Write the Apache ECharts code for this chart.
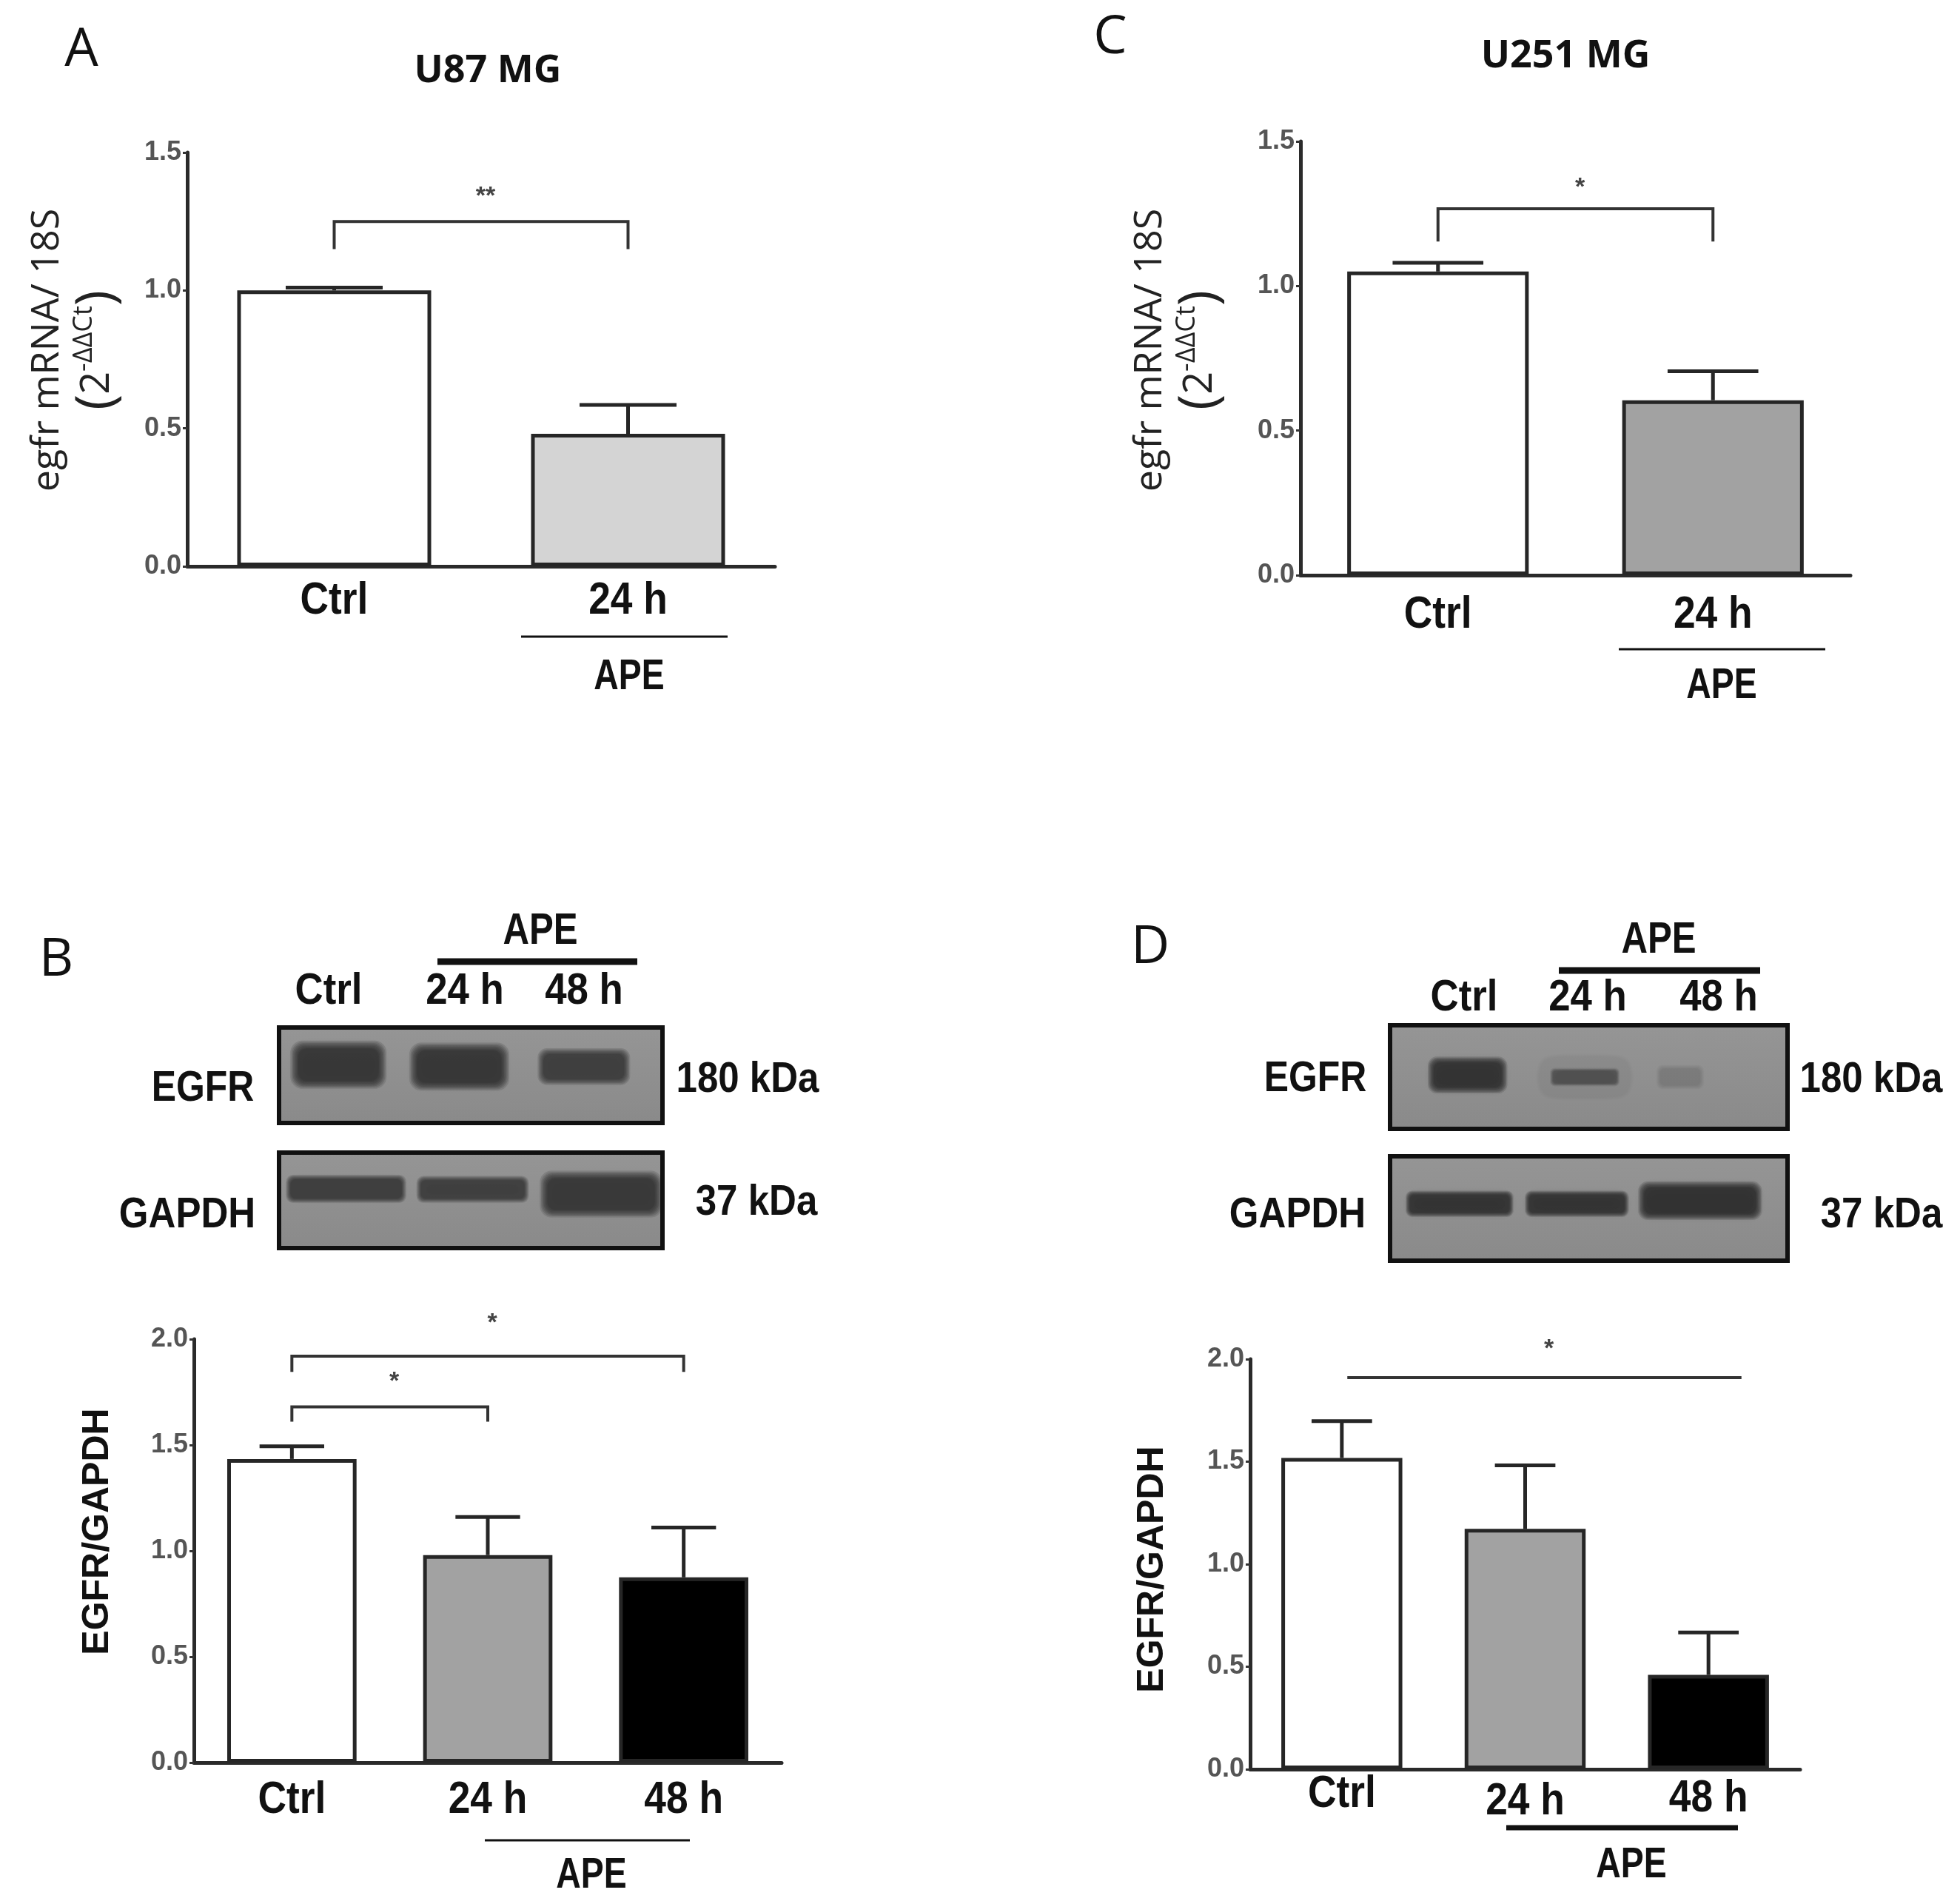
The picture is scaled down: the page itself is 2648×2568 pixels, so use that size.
<!DOCTYPE html>
<html><head><meta charset="utf-8">
<script src="https://cdn.jsdelivr.net/npm/echarts@6/dist/echarts.min.js"></script>
<style>html,body{margin:0;padding:0;background:#fff}#c{width:2648px;height:2568px}</style>
</head><body><div id="c"></div>
<script>
// ---------- data ----------
const catsA = ['Ctrl', '24 h'];
const meanA = [1.00, 0.48];
const semA = [0.01, 0.105];
const catsC = ['Ctrl', '24 h'];
const meanC = [1.05, 0.605];
const semC = [0.03, 0.10];
const catsB = ['Ctrl', '24 h', '48 h'];
const meanB = [1.434, 0.98, 0.875];
const semB = [0.06, 0.18, 0.235];
const catsD = ['Ctrl', '24 h', '48 h'];
const meanD = [1.518, 1.172, 0.46];
const semD = [0.18, 0.31, 0.207];
const ticksAC = ['0.0', '0.5', '1.0', '1.5'];
const ticksBD = ['0.0', '0.5', '1.0', '1.5', '2.0'];
// significance: [fromIdx, toIdx, barY, legBottomY, startExtra, endExtra, starY]
const sigA = [[0, 1, 1.25, 1.15, 0, 0, 1.34]];
const starsA = ['**'];
const sigC = [[0, 1, 1.267, 1.154, 0, 0, 1.34]];
const starsC = ['*'];
const sigB = [[0, 1, 1.68, 1.61, 0, 0, 1.80], [0, 2, 1.92, 1.845, 0, 0, 2.075]];
const starsB = ['*', '*'];
const sigD = [[0, 2, 1.91, 1.91, 0.03, 0.18, 2.05]];
const starsD = ['*'];
// western blot band intensities (per lane)
const blotB_EGFR = [0.9, 0.9, 0.82];
const blotB_GAPDH = [0.78, 0.76, 0.88];
const blotD_EGFR = [0.95, 0.5, 0.14];
const blotD_GAPDH = [0.95, 0.95, 0.97];

const fillAC = [['#ffffff', '#d4d4d4'], ['#ffffff', '#a2a2a2']];
const fillBD = ['#ffffff', '#a2a2a2', '#000000'];

const BOLD = '"Liberation Sans", Arial, sans-serif';
const SANS = '"Open Sans", "Liberation Sans", sans-serif';
const INK = '#262626';

// ---------- helpers ----------
function errItem(params, api) {
  const i = api.value(0);
  const b = api.coord([i, api.value(1)]);
  const t = api.coord([i, api.value(2)]);
  const bw = api.size([1, 0])[0];
  const cap = bw * 0.66 * 0.25;
  return { type: 'group', children: [
    { type: 'line', shape: { x1: b[0], y1: b[1], x2: t[0], y2: t[1] }, style: { stroke: INK, lineWidth: 5 } },
    { type: 'line', shape: { x1: t[0] - cap, y1: t[1], x2: t[0] + cap, y2: t[1] }, style: { stroke: INK, lineWidth: 5 } }
  ]};
}
function sigItem(stars) {
  return function (params, api) {
    const x0 = api.value(0), x1 = api.value(1), y = api.value(2), yl = api.value(3);
    const e0 = api.value(4), e1 = api.value(5), ys = api.value(6);
    const bw = api.size([1, 0])[0];
    const p0 = api.coord([x0, y]), p1 = api.coord([x1, y]), pl = api.coord([x0, yl]), ps = api.coord([x0, ys]);
    const xa = p0[0] + e0 * bw, xb = p1[0] + e1 * bw;
    const pts = yl < y ? [[xa, pl[1]], [xa, p0[1]], [xb, p0[1]], [xb, pl[1]]] : [[xa, p0[1]], [xb, p0[1]]];
    return { type: 'group', children: [
      { type: 'polyline', shape: { points: pts }, style: { stroke: '#333', lineWidth: 4, fill: null } },
      { type: 'text', style: { text: stars[params.dataIndex], x: (xa + xb) / 2 + 6, y: ps[1], align: 'center', verticalAlign: 'middle', fontSize: 34, fontWeight: 'bold', fontFamily: BOLD, fill: '#444' } }
    ]};
  };
}

const grids = [
  { left: 253, top: 206, width: 794, height: 559 },
  { left: 1757, top: 191, width: 743, height: 586 },
  { left: 262, top: 1809, width: 794, height: 572 },
  { left: 1689, top: 1836, width: 743, height: 554 }
];
const panels = [
  { cats: catsA, mean: meanA, sem: semA, ticks: ticksAC, max: 1.5, fills: fillAC[0], sig: sigA, stars: starsA },
  { cats: catsC, mean: meanC, sem: semC, ticks: ticksAC, max: 1.5, fills: fillAC[1], sig: sigC, stars: starsC },
  { cats: catsB, mean: meanB, sem: semB, ticks: ticksBD, max: 2.0, fills: fillBD, sig: sigB, stars: starsB },
  { cats: catsD, mean: meanD, sem: semD, ticks: ticksBD, max: 2.0, fills: fillBD, sig: sigD, stars: starsD }
];
const labelOffsets = [[47, 47], [54, 54], [51, 51, 51], [34, 44, 40]];

const xAxis = [], yAxis = [], series = [];
panels.forEach((p, k) => {
  xAxis.push({ gridIndex: k, type: 'category', data: p.cats,
    axisLine: { lineStyle: { color: '#2a2a2a', width: 5 } }, axisTick: { show: false },
    axisLabel: { show: false } });
  yAxis.push({ gridIndex: k, type: 'value', min: 0, max: p.max, interval: 0.5,
    splitLine: { show: false },
    axisLine: { show: true, lineStyle: { color: '#2a2a2a', width: 5 } },
    axisTick: { show: true, length: 6, lineStyle: { color: '#333', width: 3 } },
    axisLabel: { formatter: (v) => p.ticks[Math.round(v / 0.5)], fontFamily: BOLD, fontSize: 36, fontWeight: 'bold', color: '#555', margin: 8 } });
  series.push({ type: 'bar', xAxisIndex: k, yAxisIndex: k, barWidth: '66%', z: 2,
    data: p.mean.map((v, i) => ({ value: v, itemStyle: { color: p.fills[i] } })),
    itemStyle: { borderColor: INK, borderWidth: 5 } });
  series.push({ type: 'custom', xAxisIndex: k, yAxisIndex: k, z: 3, clip: false,
    encode: { x: 0, y: [1, 2] },
    data: p.mean.map((m, i) => [i, m, m + p.sem[i]]), renderItem: errItem });
  series.push({ type: 'custom', xAxisIndex: k, yAxisIndex: k, z: 4, clip: false,
    encode: { x: 0, y: 2 },
    data: p.sig, renderItem: sigItem(p.stars) });
});

const chart = echarts.init(document.getElementById('c'), null, { renderer: 'canvas' });
chart.setOption({
  backgroundColor: '#ffffff',
  animation: false,
  grid: grids,
  xAxis: xAxis,
  yAxis: yAxis,
  series: series
});

// ---------- decorative texts & blots ----------
const g = [];
function txt(x, y, text, size, opts) {
  g.push(Object.assign({ type: 'text', x: x, y: y, z: 10, style: Object.assign({ text: text, fontSize: size, fontFamily: BOLD,
    fontWeight: 'bold', fill: '#111', align: 'center', verticalAlign: 'middle' }, opts && opts.style || {}) },
    opts && opts.el || {}));
}
function ntxt(x, y, text, size, sx) { txt(x, y, text, size, { el: { scaleX: sx } }); }
function hline(x1, x2, y, w) {
  g.push({ type: 'line', z: 10, shape: { x1: x1, y1: y, x2: x2, y2: y }, style: { stroke: '#111', lineWidth: w } });
}
function softBand(x, y, w, h, a) {
  const n = 7;
  const s = Math.min(w, h) * 0.08;
  for (let j = 0; j < n; j++) {
    const e = (n - 1 - j) * s;
    const al = Math.min(1, a / n * 1.3);
    g.push({ type: 'rect', z: 3,
      shape: { x: x - e * 0.5, y: y - e * 0.5, width: w + e, height: h + e, r: (h + e) * 0.25 },
      style: { fill: 'rgba(30,30,30,' + al + ')', shadowBlur: 16, shadowColor: 'rgba(30,30,30,' + (al * 0.9) + ')' } });
  }
}
function blot(x, y, w, h, bands, inten) {
  g.push({ type: 'rect', z: 1, shape: { x: x, y: y, width: w, height: h },
    style: { fill: new echarts.graphic.LinearGradient(0, 0, 0, 1, [{ offset: 0, color: '#959595' }, { offset: 1, color: '#8a8a8a' }]) } });
  bands.forEach((b, i) => {
    softBand(x + b[0] * w, y + b[2] * h, (b[1] - b[0]) * w, (b[3] - b[2]) * h, inten[i]);
  });
  g.push({ type: 'rect', z: 5, shape: { x: x, y: y, width: w, height: h }, style: { fill: null, stroke: '#111', lineWidth: 6 } });
}

// category labels positioned through the axes' own scales
panels.forEach((p, k) => {
  p.cats.forEach((c, i) => {
    const pt = chart.convertToPixel({ gridIndex: k }, [i, 0]);
    ntxt(pt[0], pt[1] + labelOffsets[k][i], c, 62, 0.86);
  });
});

// panel letters and titles
txt(110, 68, 'A', 72, { style: { fontFamily: SANS, fontWeight: 'normal' } });
txt(1500, 51, 'C', 72, { style: { fontFamily: SANS, fontWeight: 'normal' } });
txt(76, 1297, 'B', 72, { style: { fontFamily: SANS, fontWeight: 'normal' } });
txt(1554, 1280, 'D', 72, { style: { fontFamily: SANS, fontWeight: 'normal' } });
txt(659, 96, 'U87 MG', 52, { style: { fontFamily: SANS } });
txt(2115, 76, 'U251 MG', 52, { style: { fontFamily: SANS } });

// y-axis names
const R = Math.PI / 2;
[[64, 132, 473], [1554, 1622, 473]].forEach(a => {
  txt(a[0], a[2], 'egfr mRNA/ 18S', 52, { style: { fontFamily: SANS, fontWeight: 'normal', fill: '#222' }, el: { rotation: R } });
  txt(a[1], a[2], '{p|(}{n|2}{s|-ΔΔCt}{p|)}', 52, { el: { rotation: R }, style: { fontFamily: SANS, fontWeight: 'normal', rich: {
    p: { fontSize: 72, fontFamily: SANS, fill: '#222' },
    n: { fontSize: 54, fontFamily: SANS, fill: '#222' },
    s: { fontSize: 36, fontFamily: SANS, fill: '#222', verticalAlign: 'top', padding: [0, 0, 22, 0] } } } });
});
txt(132, 2069, 'EGFR/GAPDH', 50, { el: { rotation: R } });
txt(1557, 2120, 'EGFR/GAPDH', 50, { el: { rotation: R } });

// APE group labels under bar charts
hline(704, 983, 860, 3); ntxt(850, 915, 'APE', 58, 0.8);
hline(2187, 2466, 877, 3); ntxt(2326, 927, 'APE', 58, 0.8);
hline(655, 932, 2486, 3); ntxt(799, 2534, 'APE', 58, 0.8);
hline(2035, 2348, 2469, 7); ntxt(2204, 2520, 'APE', 58, 0.8);

// Blot B
blot(377, 1388, 518, 129, [[0.05, 0.26, 0.22, 0.56], [0.36, 0.58, 0.24, 0.58], [0.69, 0.9, 0.28, 0.54]], blotB_EGFR);
blot(377, 1557, 518, 129, [[0.03, 0.32, 0.28, 0.48], [0.37, 0.64, 0.29, 0.48], [0.7, 0.98, 0.27, 0.6]], blotB_GAPDH);
ntxt(274, 1471, 'EGFR', 58, 0.86); ntxt(253, 1642, 'GAPDH', 58, 0.88);
ntxt(1010, 1459, '180 kDa', 58, 0.88); ntxt(1022, 1625, '37 kDa', 58, 0.88);
ntxt(444, 1339, 'Ctrl', 60, 0.88); ntxt(628, 1339, '24 h', 60, 0.88); ntxt(789, 1339, '48 h', 60, 0.88);
ntxt(730, 1258, 'APE', 60, 0.82); hline(591, 861, 1299, 9);

// Blot D
blot(1878, 1385, 537, 140, [[0.11, 0.28, 0.36, 0.6], [0.41, 0.57, 0.44, 0.56], [0.68, 0.78, 0.42, 0.58]], blotD_EGFR);
blot(1878, 1562, 537, 141, [[0.05, 0.3, 0.37, 0.54], [0.35, 0.59, 0.37, 0.54], [0.64, 0.92, 0.3, 0.55]], blotD_GAPDH);
ntxt(1777, 1458, 'EGFR', 58, 0.86); ntxt(1753, 1642, 'GAPDH', 58, 0.88);
ntxt(2528, 1459, '180 kDa', 58, 0.88); ntxt(2542, 1642, '37 kDa', 58, 0.88);
ntxt(1978, 1348, 'Ctrl', 60, 0.88); ntxt(2145, 1348, '24 h', 60, 0.88); ntxt(2322, 1348, '48 h', 60, 0.88);
ntxt(2241, 1270, 'APE', 60, 0.82); hline(2106, 2378, 1311, 9);

chart.setOption({ graphic: { elements: g } });
</script>
</body></html>
